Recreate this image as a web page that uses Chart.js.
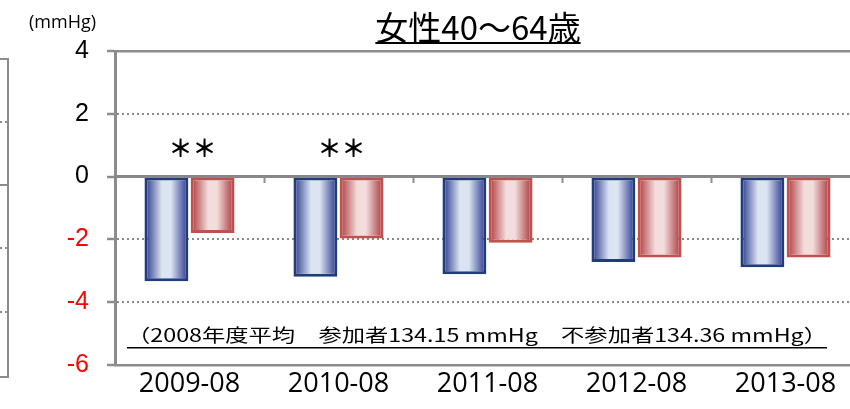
<!DOCTYPE html>
<html>
<head>
<meta charset="utf-8">
<script src="https://cdn.jsdelivr.net/npm/chart.js@4.4.1/dist/chart.umd.min.js"></script>
<style>
    html, body { margin: 0; padding: 0; background: #fff; width: 850px; height: 409px; overflow: hidden; }
    #prev { position: absolute; left: 0; top: 58px; width: 7px; height: 316px; border: 2px solid #8c8c8c; border-left: none; }
    #prevZero { position: absolute; left: 0; top: 184px; width: 8px; height: 2px; background: #8c8c8c; }
    .prevGrid { position: absolute; left: 0; width: 7px; height: 0; border-top: 2px dotted #8c8c8c; }
    #wrap { position: absolute; left: 0; top: 0; width: 862px; height: 409px; }
</style>
</head>
<body>
<div id="prev"></div>
<div id="prevZero"></div>
<div class="prevGrid" style="top:121px"></div>
<div class="prevGrid" style="top:247px"></div>
<div class="prevGrid" style="top:311px"></div>
<div id="wrap"><canvas id="myChart"></canvas></div>
<script>
const categories = ['2009-08', '2010-08', '2011-08', '2012-08', '2013-08'];
const participants = [-3.33, -3.19, -3.11, -2.72, -2.89];
const nonParticipants = [-1.80, -1.97, -2.11, -2.58, -2.58];
const significance = ['＊＊', '＊＊', '', '', ''];
const yTicks = [4, 2, 0, -2, -4, -6];
const chartTitle = '女性40～64歳';
const unitLabel = '(mmHg)';
const baselineNote = '（2008年度平均　参加者134.15 mmHg　不参加者134.36 mmHg）';

// each bar gets its own left-to-right gradient (dark edges, light middle)
const gradientFill = {
    id: 'gradientFill',
    beforeDatasetsDraw(chart) {
        const c = chart.ctx;
        chart.data.datasets.forEach((ds, i) => {
            chart.getDatasetMeta(i).data.forEach(bar => {
                const g = c.createLinearGradient(bar.x - bar.width / 2, 0, bar.x + bar.width / 2, 0);
                ds.stops.forEach(s => g.addColorStop(s[0], s[1]));
                bar.options = Object.assign({}, bar.options, { backgroundColor: g });
            });
        });
    }
};

// title, unit, significance marks and the baseline note
const overlay = {
    id: 'overlay',
    afterDraw(chart) {
        const c = chart.ctx;
        const xs = chart.scales.x;
        const ys = chart.scales.y;
        c.save();
        c.fillStyle = '#000';

        c.font = '33px "Noto Sans CJK JP"';
        c.textAlign = 'center';
        c.textBaseline = 'alphabetic';
        c.fillText(chartTitle, 478, 40);
        const tw = c.measureText(chartTitle).width;
        c.fillRect(478 - tw / 2, 42, tw, 2);

        c.font = '18px "Open Sans"';
        c.textAlign = 'left';
        c.fillText(unitLabel, 29, 28);

        c.font = 'bold 24px "Noto Sans CJK JP"';
        c.textAlign = 'center';
        c.textBaseline = 'middle';
        significance.forEach((m, i) => {
            if (m) c.fillText(m, xs.getPixelForValue(i) + 3, ys.getPixelForValue(0.9));
        });

        c.font = '18px "Noto Sans CJK JP"';
        c.textBaseline = 'alphabetic';
        const nw = c.measureText(baselineNote).width;
        c.save();
        c.translate(477, 342);
        c.scale(700 / nw, 1);
        c.fillText(baselineNote, 0, 0);
        c.restore();
        c.fillRect(127, 347, 700, 1.5);
        c.restore();
    }
};

const ctx = document.getElementById('myChart');
const chart = new Chart(ctx, {
    type: 'bar',
    data: {
        labels: categories,
        datasets: [{
            label: '参加者',
            data: participants,
            stops: [[0, '#243189'], [0.4, '#dbe4f1'], [0.6, '#dbe4f1'], [1, '#28338e']],
            borderColor: '#1f3d7c',
            borderWidth: 3,
            borderSkipped: false,
            categoryPercentage: 0.62,
            barPercentage: 0.95
        }, {
            label: '不参加者',
            data: nonParticipants,
            stops: [[0, '#ad3438'], [0.4, '#f2dcdc'], [0.6, '#f2dcdc'], [1, '#a63034']],
            borderColor: '#c0504d',
            borderWidth: 3,
            borderSkipped: false,
            categoryPercentage: 0.62,
            barPercentage: 0.95
        }]
    },
    options: {
        responsive: true,
        maintainAspectRatio: false,
        animation: false,
        layout: { padding: { top: 51, right: 2, bottom: 0, left: 0 } },
        plugins: {
            legend: { display: false },
            tooltip: { enabled: false },
            title: { display: false }
        },
        scales: {
            x: {
                offset: true,
                grid: { display: false, drawTicks: false },
                border: { color: '#8c8c8c', width: 2.5 },
                ticks: { color: '#000', font: { family: 'Open Sans', size: 27 }, padding: 3, maxRotation: 0, autoSkip: false },
                afterFit: s => { s.height = 44; }
            },
            xZero: {
                type: 'category',
                position: { y: 0 },
                offset: true,
                ticks: { display: false },
                grid: { offset: true, drawOnChartArea: false, tickLength: 5, tickWidth: 2, tickColor: '#8c8c8c', color: '#8c8c8c' },
                border: { color: '#888888', width: 3, z: 1 }
            },
            xTop: {
                type: 'category',
                position: 'top',
                ticks: { display: false },
                grid: { display: false, drawTicks: false },
                border: { color: '#8c8c8c', width: 2.5 }
            },
            y: {
                min: -6,
                max: 4,
                afterBuildTicks: s => { s.ticks = yTicks.map(v => ({ value: v })); },
                ticks: {
                    color: c => c.tick && c.tick.value < 0 ? '#ff0000' : '#000',
                    font: { family: 'Liberation Sans', size: 25 },
                    padding: 18
                },
                grid: { color: '#8a8a8a', lineWidth: 2, tickLength: 8, tickWidth: 2.5, tickColor: '#8c8c8c' },
                border: { color: '#8c8c8c', width: 3, dash: [2, 3] },
                afterFit: s => { s.width = 115; }
            }
        }
    },
    plugins: [gradientFill, overlay]
});
</script>
</body>
</html>
